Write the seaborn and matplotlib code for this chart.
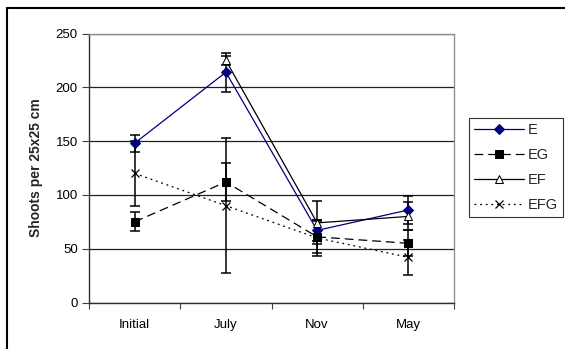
import numpy as np
import pandas as pd
import matplotlib
matplotlib.use("Agg")
import matplotlib.pyplot as plt
from matplotlib.patches import Rectangle
import seaborn as sns

# data
months = ["Initial", "July", "Nov", "May"]
e_vals = [148, 214, 67, 86]
e_err = [8, 18, 10, 13]
eg_vals = [75, 112, 61, 55]
eg_err = [9, 18, 15, 12]
ef_vals = [np.nan, 225, 74, 80]
ef_err = [np.nan, 4, 20, 13]
efg_vals = [120, 90, 60, 42]
efg_err = [30, 63, 17, 16]

sns.set_theme(style="white")
plt.rcParams['font.family'] = ['Liberation Sans', 'DejaVu Sans']

W, H = 565, 349
fig = plt.figure(figsize=(W / 100, H / 100), dpi=100)
ax = fig.add_axes([89 / W, 1 - 302.5 / H, (454 - 89) / W, (302.5 - 33.5) / H])

x = np.arange(len(months))
series = [
    ("E", e_vals, e_err, dict(color="#000080", marker="D", markersize=5.5,
                              markerfacecolor="#000080", markeredgecolor="#000080",
                              linestyle="-")),
    ("EG", eg_vals, eg_err, dict(color="black", marker="s", markersize=5.5,
                                 markerfacecolor="black", markeredgecolor="black",
                                 linestyle=(0, (7, 4)))),
    ("EF", ef_vals, ef_err, dict(color="black", marker="^", markersize=5.5,
                                 markerfacecolor="white", markeredgecolor="black",
                                 linestyle="-")),
    ("EFG", efg_vals, efg_err, dict(color="black", marker="x", markersize=5.5,
                                    markeredgecolor="black", markeredgewidth=0.9,
                                    linestyle=(0, (1.5, 3)))),
]

for name, vals, err, style in series:
    ax.errorbar(x, vals, yerr=err, fmt="none", ecolor="black", elinewidth=1.1,
                capsize=3.8, capthick=1.1, zorder=2)

for name, vals, err, style in series:
    df = pd.DataFrame({"x": x, "y": vals}).dropna()
    sns.lineplot(data=df, x="x", y="y", ax=ax, label=name, linewidth=0.9,
                 zorder=3, **style)

ax.set_xlim(-0.5, 3.5)
ax.set_ylim(0, 250)
ax.set_yticks(range(0, 251, 50))
ax.set_xticks(np.arange(-0.5, 3.6, 1))
ax.set_xticklabels([])
ax.set_xticks(x, minor=True)
ax.set_xticklabels(months, minor=True)
ax.tick_params(axis="x", which="minor", length=0, labelsize=9.5, pad=12, colors="black")
ax.tick_params(axis="x", which="major", length=4, width=0.8, direction="out",
               color="#404040", bottom=True)
ax.tick_params(axis="y", length=5, width=0.8, direction="out", color="#404040",
               labelsize=9.5, pad=3, left=True, labelcolor="black")
ax.set_xlabel("")
ax.set_ylabel("Shoots per 25x25 cm", fontsize=10, fontweight="bold", labelpad=9)

ax.grid(axis="y", color="#202020", linewidth=0.9)
ax.grid(axis="x", visible=False)
for s in ["left", "bottom"]:
    ax.spines[s].set_color("#303030")
    ax.spines[s].set_linewidth(1.0)
for s in ["top", "right"]:
    ax.spines[s].set_color("#909090")
    ax.spines[s].set_linewidth(1.0)

ax.legend(loc="upper left", bbox_to_anchor=(469 / W, 1 - 118 / H),
          bbox_transform=fig.transFigure, borderaxespad=0, frameon=True,
          fancybox=False, edgecolor="black", fontsize=10.5, handlelength=3.4,
          handletextpad=0.3, labelspacing=0.75, borderpad=0.35)
ax.get_legend().get_frame().set_linewidth(0.8)

# outer chart border, clipped at right and bottom like the reference
fig.patches.append(Rectangle((7 / W, -0.1), 1.5, 1 - 8 / H + 0.1,
                             transform=fig.transFigure, fill=False,
                             edgecolor="black", linewidth=1.5))

fig.savefig("out.png", dpi=100)
